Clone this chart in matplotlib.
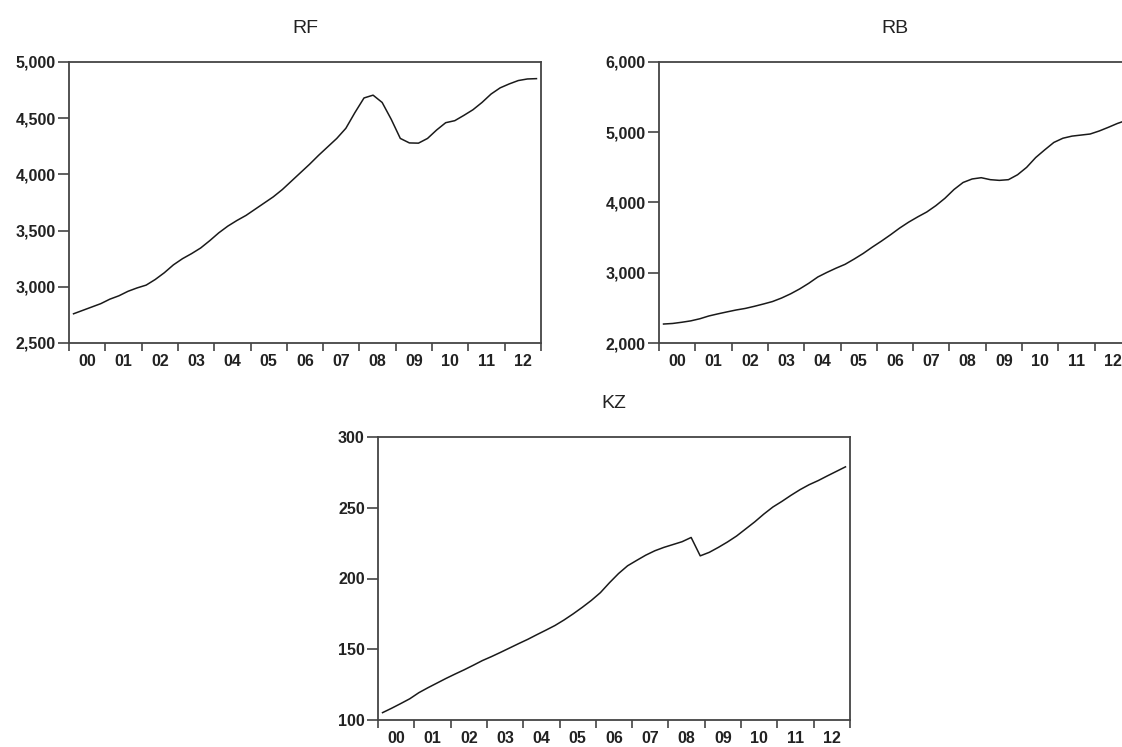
import numpy as np
import matplotlib
matplotlib.use("Agg")
import matplotlib.pyplot as plt
from matplotlib.ticker import FixedLocator, NullFormatter, FuncFormatter

plt.rcParams.update({
    "font.family": ["Liberation Sans", "DejaVu Sans"],
    "font.size": 11,
})

# квартальні дані 2000Q1 .. 2012Q4
YEARS = np.arange(2000, 2013)
t = 2000.125 + 0.25 * np.arange(52)
year_labels = [f"{y % 100:02d}" for y in YEARS]

rf = [2760, 2790, 2820, 2850, 2890, 2920, 2960, 2990,
      3015, 3065, 3125, 3195, 3250, 3295, 3345, 3410,
      3480, 3540, 3590, 3635, 3690, 3745, 3800, 3865,
      3940, 4015, 4090, 4170, 4245, 4320, 4410, 4550,
      4680, 4705, 4640, 4490, 4320, 4280, 4278, 4320,
      4395, 4460, 4478, 4525, 4575, 4640, 4715, 4770,
      4805, 4835, 4849, 4852]

rb = [2270, 2278, 2295, 2315, 2345, 2385, 2415, 2443,
      2470, 2492, 2522, 2555, 2590, 2640, 2700, 2770,
      2850, 2940, 3005, 3065, 3120, 3195, 3275, 3365,
      3450, 3540, 3635, 3720, 3795, 3865, 3955, 4060,
      4185, 4285, 4335, 4353, 4325, 4315, 4325, 4395,
      4500, 4640, 4750, 4855, 4915, 4945, 4960, 4975,
      5018, 5070, 5125, 5170]

kz = [105.2, 108.3, 111.6, 115.0, 119.3, 122.8, 126.1, 129.4,
      132.5, 135.5, 138.7, 142.0, 144.8, 147.8, 150.9, 154.0,
      157.0, 160.3, 163.5, 166.8, 170.7, 175.0, 179.6, 184.5,
      190.0, 197.0, 203.5, 209.0, 212.8, 216.5, 219.6, 222.0,
      224.0, 226.0, 229.0, 216.0, 218.5, 222.0, 225.8, 230.0,
      235.0, 240.0, 245.5, 250.5, 254.5, 258.8, 262.8, 266.3,
      269.2, 272.5, 275.7, 278.9]

SPINE = "#444444"
TEXT = "#222222"


def panel(ax, y, title, ylim, yticks):
    ax.plot(t, y, color="#1a1a1a", linewidth=1.1)
    ax.set_xlim(2000, 2013)
    ax.set_ylim(*ylim)
    ax.set_yticks(yticks)
    ax.yaxis.set_major_formatter(FuncFormatter(lambda v, p: f"{v:,.0f}"))
    # риски на межах років, підписи посередині року
    ax.xaxis.set_major_locator(FixedLocator(np.arange(2000, 2014)))
    ax.xaxis.set_major_formatter(NullFormatter())
    ax.xaxis.set_minor_locator(FixedLocator(YEARS + 0.5))
    ax.set_xticklabels(year_labels, minor=True)
    ax.tick_params(axis="x", which="major", direction="out", length=6,
                   width=1.2, color=SPINE)
    ax.tick_params(axis="x", which="minor", length=0, pad=8,
                   labelsize=11.5, labelcolor=TEXT)
    ax.tick_params(axis="y", direction="out", length=8, width=1.2,
                   color=SPINE, pad=1.5, labelsize=11.5, labelcolor=TEXT)
    for lbl in ax.get_xticklabels(minor=True) + ax.get_yticklabels():
        lbl.set_fontweight("bold")
    for s in ax.spines.values():
        s.set_color(SPINE)
        s.set_linewidth(1.3)
    ax.set_title(title, fontsize=14, pad=21, color=TEXT)


fig = plt.figure(figsize=(11.22, 7.47), dpi=100)
W, H = 472 / 1122, 281 / 747

ax1 = fig.add_axes([69 / 1122, 1 - 343 / 747, W, H])
panel(ax1, rf, "RF", (2500, 5000), [2500, 3000, 3500, 4000, 4500, 5000])

ax2 = fig.add_axes([659 / 1122, 1 - 343 / 747, W, H])
panel(ax2, rb, "RB", (2000, 6000), [2000, 3000, 4000, 5000, 6000])

ax3 = fig.add_axes([378 / 1122, 1 - 720 / 747, W, 283 / 747])
panel(ax3, kz, "KZ", (100, 300), [100, 150, 200, 250, 300])

fig.savefig("out.png", dpi=100)
